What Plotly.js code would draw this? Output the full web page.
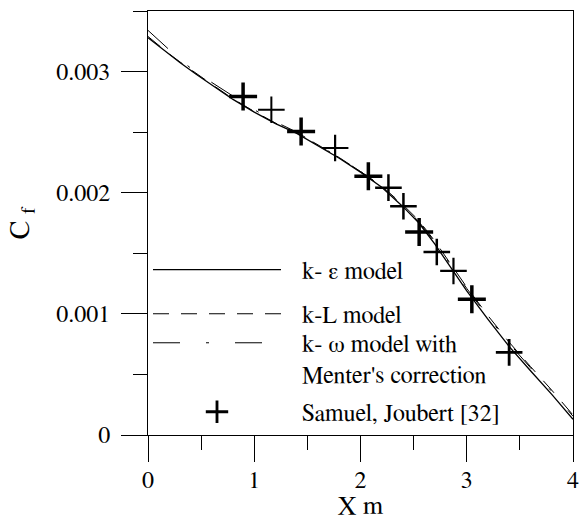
<!DOCTYPE html>
<html>
<head>
<meta charset="utf-8">
<script src="https://cdn.plot.ly/plotly-3.0.1.min.js"></script>
<style>html,body{margin:0;padding:0;background:#fff;}#chart{width:579px;height:519px;}</style>
</head>
<body>
<div id="chart"></div>
<script>
// Model curves (X in m, Cf)
var xModel = [0, 0.1, 0.2, 0.3, 0.45, 0.6, 0.8, 1.0, 1.2, 1.4, 1.6, 1.8, 2.0, 2.2, 2.4, 2.55, 2.7, 2.85, 3.0, 3.2, 3.4, 3.6, 3.8, 4.0];
var cfKEps = [0.00328, 0.00321, 0.00314, 0.003075, 0.00298, 0.00289, 0.00277, 0.002665, 0.00257, 0.00249, 0.00239, 0.002285, 0.00217, 0.002045, 0.001885, 0.00175, 0.001575, 0.00138, 0.00119, 0.000955, 0.00073, 0.00053, 0.000335, 0.00013];
var cfKL = [0.00329, 0.003215, 0.003145, 0.00308, 0.002985, 0.002895, 0.002775, 0.00267, 0.002575, 0.002495, 0.002395, 0.00229, 0.002175, 0.002055, 0.0019, 0.00177, 0.0016, 0.00141, 0.00122, 0.000985, 0.000765, 0.000565, 0.00037, 0.000165];
var cfKOmega = [0.00334, 0.00326, 0.00318, 0.0031, 0.002995, 0.00291, 0.0028, 0.002685, 0.002585, 0.0025, 0.002395, 0.00229, 0.002175, 0.00205, 0.001895, 0.00176, 0.00159, 0.0014, 0.00121, 0.000975, 0.000755, 0.000555, 0.00036, 0.000155];

// Experimental data: Samuel, Joubert [32]
var xExp = [0.895, 1.161, 1.441, 1.761, 2.074, 2.263, 2.404, 2.552, 2.718, 2.875, 3.048, 3.399];
var cfExp = [0.002795, 0.002685, 0.002506, 0.002369, 0.002135, 0.002042, 0.001888, 0.001676, 0.001511, 0.001354, 0.001121, 0.000682];

// Tick labels
var xTicks = [0, 1, 2, 3, 4];
var xTickText = ['0', '1', '2', '3', '4'];
var xMinorTicks = [0.5, 1.5, 2.5, 3.5];
var yTicks = [0, 0.001, 0.002, 0.003];
var yTickText = ['0', '0.001', '0.002', '0.003'];
var yMinorTicks = [0.0005, 0.0015, 0.0025, 0.0035];

var IND = '\u2002\u2009';
var seriesNames = [IND + 'k- \u03b5 model', IND + 'k-L model', IND + 'k- \u03c9 model with<br>' + IND + 'Menter\'s correction', IND + 'Samuel, Joubert [32]'];

var FONT = 'FreeSerif';
var expSizes = [20, 19, 20, 19, 20, 19, 19, 20, 19, 19, 20, 19];
var expWidths = [3.5, 2, 3.5, 2.2, 3.5, 2.5, 2.5, 3.5, 2.5, 2.2, 3.5, 2.8];

var traces = [
  {x: xModel, y: cfKEps, mode: 'lines', name: seriesNames[0], line: {color: '#000', width: 1.3, dash: 'solid'}, legend: 'legend'},
  {x: xModel, y: cfKL, mode: 'lines', name: seriesNames[1], line: {color: '#000', width: 1, dash: '16px,12px'}, legend: 'legend2'},
  {x: xModel, y: cfKOmega, mode: 'lines', name: seriesNames[2], line: {color: '#000', width: 1, dash: '27px,26px,3px,26px'}, legend: 'legend3'},
  {x: xExp, y: cfExp, mode: 'markers', name: seriesNames[3], marker: {symbol: 'cross-thin', size: expSizes, opacity: 1, color: '#000', line: {color: '#000', width: expWidths}}, legend: 'legend4'}
];

function leg(y, extra) {
  var o = {x: 0.0, xanchor: 'left', y: y, yanchor: 'middle', bgcolor: 'rgba(0,0,0,0)', borderwidth: 0,
    font: {family: FONT, size: 24, color: '#000'}, itemwidth: 128, itemclick: false, itemdoubleclick: false};
  for (var k in extra) o[k] = extra[k];
  return o;
}

var layout = {
  width: 579, height: 519,
  margin: {l: 148, r: 6, t: 11, b: 84},
  paper_bgcolor: '#fff', plot_bgcolor: '#fff',
  font: {family: FONT, size: 24, color: '#000'},
  showlegend: true,
  legend: leg(0.389),
  legend2: leg(0.285),
  legend3: leg(0.18, {valign: 'top'}),
  legend4: leg(0.054),
  xaxis: {
    range: [0, 4], tickvals: xTicks, ticktext: xTickText,
    ticks: 'outside', ticklen: 26, tickwidth: 1, tickcolor: '#000',
    showline: true, linecolor: '#000', linewidth: 1, mirror: true,
    showgrid: false, zeroline: false, ticklabelstandoff: -3, ticklabeloverflow: 'allow',
    tickfont: {family: FONT, size: 24, color: '#000'},
    minor: {tickvals: xMinorTicks, ticks: 'outside', ticklen: 14, tickwidth: 1, tickcolor: '#000', showgrid: false},
    title: {text: 'X m', font: {family: FONT, size: 26, color: '#000'}, standoff: 12}
  },
  yaxis: {
    range: [0, 0.0035], tickvals: yTicks, ticktext: yTickText,
    ticks: 'outside', ticklen: 26, tickwidth: 1, tickcolor: '#000',
    showline: true, linecolor: '#000', linewidth: 1, mirror: true,
    showgrid: false, zeroline: false, ticklabelstandoff: 6,
    tickfont: {family: FONT, size: 24, color: '#000'},
    minor: {tickvals: yMinorTicks, ticks: 'outside', ticklen: 14, tickwidth: 1, tickcolor: '#000', showgrid: false},
    title: {text: 'C <sub>f</sub>', font: {family: FONT, size: 28, color: '#000'}, standoff: 18}
  }
};

Plotly.newPlot('chart', traces, layout, {displayModeBar: false, staticPlot: true});
</script>
</body>
</html>
